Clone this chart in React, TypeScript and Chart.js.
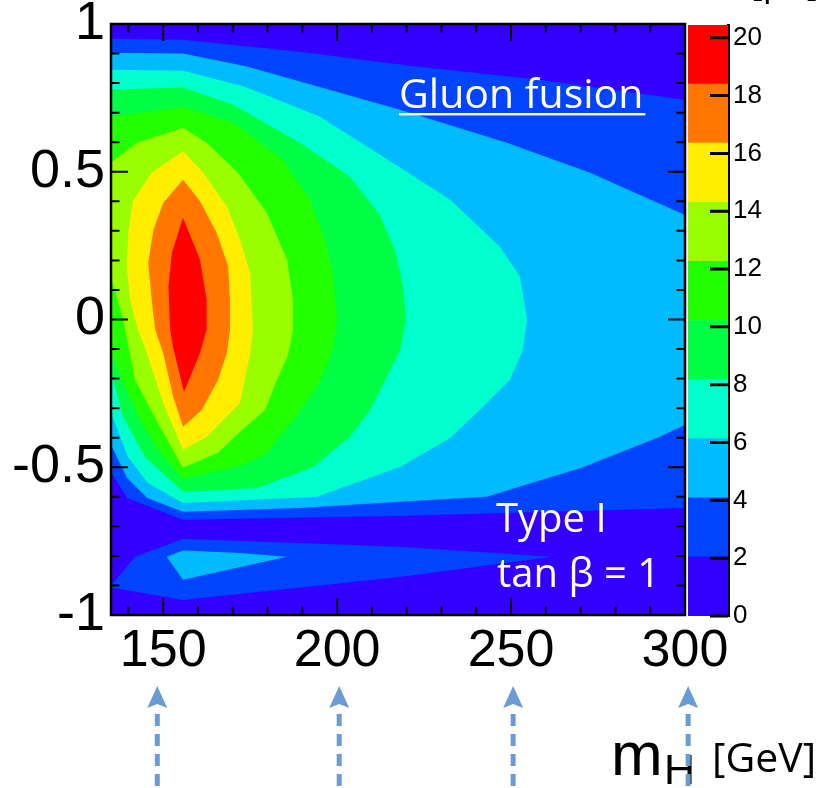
import React, { useEffect, useRef } from "react";
import { Chart, registerables } from "chart.js";

Chart.register(...registerables);

// ---------------- axes ----------------
const xMin = 135;
const xMax = 300;
const yMin = -1;
const yMax = 1;
const xTickValues = [150, 200, 250, 300];
const xTickLabels = ["150", "200", "250", "300"];
const xMinorTickValues = [140, 150, 160, 170, 180, 190, 200, 210, 220, 230, 240, 250, 260, 270, 280, 290, 300];
const yTickValues = [-1, -0.5, 0, 0.5, 1];
const yTickLabels = ["-1", "-0.5", "0", "0.5", "1"];
const yMinorTickValues = [-0.9, -0.8, -0.7, -0.6, -0.5, -0.4, -0.3, -0.2, -0.1, 0, 0.1, 0.2, 0.3, 0.4, 0.5, 0.6, 0.7, 0.8, 0.9];

// ---------------- colour scale ----------------
const zMax = 20.44;
const zBandWidths = [2.044, 2.044, 2.044, 2.044, 2.044, 2.044, 2.044, 2.044, 2.044, 2.044];
const zBandColors = ["#3300ff", "#0044ff", "#00bbff", "#00ffcc", "#00ff44", "#22ff00", "#99ff00", "#ffee00", "#ff7700", "#ff0000"];
const zTickValues = [0, 2, 4, 6, 8, 10, 12, 14, 16, 18, 20];
const zTickLabels = ["0", "2", "4", "6", "8", "10", "12", "14", "16", "18", "20"];

// ---------------- contour regions (m_H, cos) ----------------
const band0Area: number[][] = [[135, -1], [300, -1], [300, 1], [135, 1]];
const band1Upper: number[][] = [
  [135, 0.95], [155.7, 0.947], [189.3, 0.906], [221.0, 0.859], [258.3, 0.811], [300, 0.744],
  [300, -0.638], [218.1, -0.665], [155.7, -0.678], [139.6, -0.604], [135, -0.516],
];
const band1Lower: number[][] = [
  [135, -0.9], [141.9, -0.803], [155.7, -0.742], [218.1, -0.769], [262.1, -0.803],
  [218.1, -0.871], [155.7, -0.949], [135, -0.907],
];
const band2Upper: number[][] = [
  [135, 0.903], [155.7, 0.9], [174.1, 0.856], [218.1, 0.71], [248.8, 0.598], [272.7, 0.497], [300, 0.354],
  [300, -0.357], [291.9, -0.401], [270.3, -0.502], [243.0, -0.6], [218.1, -0.617], [189.3, -0.638],
  [155.7, -0.651], [145.4, -0.604], [139.6, -0.536], [135, -0.424],
];
const band2Lower: number[][] = [
  [151.0, -0.803], [155.7, -0.782], [172.1, -0.79], [185.5, -0.803], [155.7, -0.881],
];
const band3: number[][] = [
  [135, 0.845], [155.7, 0.842], [173.5, 0.788], [195.1, 0.686], [218.1, 0.514], [232.5, 0.405],
  [246.8, 0.246], [252.6, 0.145], [254.6, 0], [253.4, -0.103], [249.7, -0.204], [241.9, -0.296],
  [232.5, -0.401], [218.1, -0.499], [194.2, -0.6], [155.7, -0.621], [145.6, -0.553], [139.9, -0.465], [135, -0.316],
];
const band4: number[][] = [
  [135, 0.778], [155.7, 0.785], [170.1, 0.727], [189.3, 0.598], [203.7, 0.483], [212.3, 0.354],
  [216.6, 0.236], [218.9, 0.117], [219.8, 0], [218.1, -0.103], [209.5, -0.306], [203.7, -0.397],
  [193.1, -0.499], [177.0, -0.57], [155.7, -0.583], [144.8, -0.465], [138.5, -0.329], [135.6, -0.204], [135, -0.204],
];
const band5: number[][] = [
  [135, 0.686], [155.7, 0.72], [170.1, 0.666], [184.4, 0.541], [192.2, 0.405], [196.5, 0.27],
  [198.8, 0.152], [200.0, 0], [198.8, -0.103], [194.5, -0.221], [187.9, -0.333], [179.3, -0.458],
  [172.1, -0.495], [155.7, -0.539], [148.5, -0.441], [142.8, -0.329], [138.1, -0.204], [135, -0.113],
];
const band6: number[][] = [
  [135, 0.531], [142.5, 0.598], [155.7, 0.649], [162.5, 0.598], [171.5, 0.497], [179.8, 0.361],
  [185.6, 0.202], [187.3, 0.067], [187.3, -0.035], [185.9, -0.12], [182.1, -0.221], [179.3, -0.306],
  [172.1, -0.38], [165.8, -0.451], [155.7, -0.502], [148.5, -0.35], [141.9, -0.204], [138.5, 0], [135, 0.145],
];
const band7: number[][] = [
  [141.3, 0.4], [146.7, 0.497], [155.7, 0.569], [161.5, 0.497], [168.3, 0.382], [172.1, 0.27],
  [175.0, 0.158], [175.8, -0.035], [175.0, -0.113], [172.1, -0.282], [162.6, -0.397], [155.7, -0.441],
  [150.0, -0.282], [145.3, -0.113], [142.8, -0.035], [140.5, 0.067], [139.5, 0.179], [140.0, 0.294],
];
const band8: number[][] = [
  [150.0, 0.394], [155.7, 0.473], [160.6, 0.4], [165.4, 0.293], [168.7, 0.179], [169.2, 0.067],
  [169.2, -0.035], [168.3, -0.113], [165.8, -0.204], [161.1, -0.306], [155.7, -0.363], [152.9, -0.262],
  [150.0, -0.113], [147.7, -0.035], [146.7, 0.067], [145.7, 0.192], [147.2, 0.304],
];
const band9: number[][] = [
  [155.7, 0.344], [160.6, 0.202], [162.5, 0.067], [162.5, -0.035], [160.6, -0.113], [156.0, -0.245],
  [152.8, -0.092], [152.0, -0.035], [151.5, 0.111], [152.5, 0.226],
];

const contourLayers = [
  { band: 0, points: band0Area },
  { band: 1, points: band1Upper },
  { band: 1, points: band1Lower },
  { band: 2, points: band2Upper },
  { band: 2, points: band2Lower },
  { band: 3, points: band3 },
  { band: 4, points: band4 },
  { band: 5, points: band5 },
  { band: 6, points: band6 },
  { band: 7, points: band7 },
  { band: 8, points: band8 },
  { band: 9, points: band9 },
];

// annotation arrows below the axis (m_H values)
const arrowMassValues = [148.3, 200.6, 250.6, 300.9];

const AXIS_FONT = '"Liberation Sans", Arial, Helvetica, sans-serif';
const NOTE_FONT = '"Open Sans", "Noto Sans", sans-serif';

const framePlugin = {
  id: "frameTicks",
  afterDatasetsDraw(chart: any) {
    const { ctx, chartArea: a, scales } = chart;
    const x = scales.x;
    const y = scales.y;
    ctx.save();
    ctx.strokeStyle = "#000";
    ctx.lineWidth = 2;
    ctx.beginPath();
    for (const v of xMinorTickValues) {
      const px = x.getPixelForValue(v);
      const len = xTickValues.includes(v) ? 17 : 8.5;
      ctx.moveTo(px, a.bottom);
      ctx.lineTo(px, a.bottom - len);
      ctx.moveTo(px, a.top);
      ctx.lineTo(px, a.top + len);
    }
    for (const v of yMinorTickValues) {
      const py = y.getPixelForValue(v);
      const len = yTickValues.includes(v) ? 17 : 8.5;
      ctx.moveTo(a.left, py);
      ctx.lineTo(a.left + len, py);
      ctx.moveTo(a.right, py);
      ctx.lineTo(a.right - len, py);
    }
    ctx.stroke();
    ctx.lineWidth = 2.5;
    ctx.strokeRect(a.left, a.top, a.right - a.left, a.bottom - a.top);
    ctx.restore();
  },
};

const notesPlugin = {
  id: "notes",
  afterDraw(chart: any) {
    const { ctx, scales } = chart;
    const x = scales.x;
    ctx.save();
    // Gluon fusion (underlined)
    ctx.fillStyle = "#ffffff";
    ctx.textBaseline = "alphabetic";
    ctx.textAlign = "left";
    ctx.font = `41px ${NOTE_FONT}`;
    ctx.fillText("Gluon fusion", 399, 108);
    const w = ctx.measureText("Gluon fusion").width;
    ctx.fillRect(399, 113, Math.max(w, 240) + 2, 2.4);
    ctx.font = `40px ${NOTE_FONT}`;
    ctx.fillText("Type I", 496, 532);
    ctx.fillText("tan \u03b2 = 1", 497, 587);

    // cut-off unit at top right
    ctx.fillStyle = "#000";
    ctx.font = `36px ${NOTE_FONT}`;
    ctx.fillText("[pb]", 751, -5);

    // axis title m_H [GeV]
    ctx.font = `62px ${AXIS_FONT}`;
    ctx.fillText("m", 611, 775);
    ctx.font = `43px ${AXIS_FONT}`;
    ctx.fillText("H", 664, 784);
    ctx.font = `41px ${NOTE_FONT}`;
    ctx.fillText("[GeV]", 712, 772);

    // dashed arrows
    const arrowColor = "#6a9bd2";
    for (const v of arrowMassValues) {
      const px = x.getPixelForValue(v);
      ctx.fillStyle = arrowColor;
      ctx.beginPath();
      ctx.moveTo(px, 686);
      ctx.lineTo(px + 10, 708);
      ctx.lineTo(px, 704);
      ctx.lineTo(px - 10, 708);
      ctx.closePath();
      ctx.fill();
      ctx.strokeStyle = arrowColor;
      ctx.lineWidth = 5;
      ctx.setLineDash([12, 8]);
      ctx.beginPath();
      ctx.moveTo(px, 714);
      ctx.lineTo(px, 792);
      ctx.stroke();
      ctx.setLineDash([]);
    }
    ctx.restore();
  },
};

const colorbarTicksPlugin = {
  id: "cbTicks",
  afterDraw(chart: any) {
    const { ctx, chartArea: a, scales } = chart;
    const y = scales.y;
    ctx.save();
    ctx.strokeStyle = "#000";
    ctx.lineWidth = 3;
    ctx.beginPath();
    for (const v of zTickValues) {
      const py = y.getPixelForValue(v);
      ctx.moveTo(a.right, py);
      ctx.lineTo(a.right - 18, py);
    }
    ctx.stroke();
    ctx.restore();
  },
};

export default function App() {
  const mainRef = useRef<HTMLCanvasElement | null>(null);
  const barRef = useRef<HTMLCanvasElement | null>(null);

  useEffect(() => {
    if (!mainRef.current || !barRef.current) return;
    const n = contourLayers.length;
    const main = new Chart(mainRef.current, {
      type: "scatter",
      data: {
        datasets: contourLayers.map((layer, i) => ({
          data: layer.points.map((p) => ({ x: p[0], y: p[1] })),
          showLine: true,
          fill: "shape",
          backgroundColor: zBandColors[layer.band],
          borderColor: "rgba(0,0,0,0)",
          borderWidth: 0,
          pointRadius: 0,
          pointHoverRadius: 0,
          tension: 0,
          order: n - i,
        })),
      },
      options: {
        animation: false,
        responsive: false,
        events: [],
        layout: { padding: { left: 0, top: 24, right: 134, bottom: 0 } },
        plugins: { legend: { display: false }, tooltip: { enabled: false } },
        scales: {
          x: {
            type: "linear",
            min: xMin,
            max: xMax,
            position: "bottom",
            grid: { display: false, drawTicks: false },
            border: { display: false },
            afterBuildTicks: (s: any) => {
              s.ticks = xTickValues.map((v) => ({ value: v }));
            },
            afterFit: (s: any) => {
              s.height = 173;
              s.paddingLeft = 0;
              s.paddingRight = 0;
            },
            ticks: {
              autoSkip: false,
              maxRotation: 0,
              color: "#000",
              padding: 11,
              font: { family: AXIS_FONT, size: 52, lineHeight: 1 },
              callback: (v: any) => {
                const i = xTickValues.indexOf(Number(v));
                return i >= 0 ? xTickLabels[i] : "";
              },
            },
          },
          y: {
            type: "linear",
            min: yMin,
            max: yMax,
            position: "left",
            grid: { display: false, drawTicks: false },
            border: { display: false },
            afterBuildTicks: (s: any) => {
              s.ticks = yTickValues.map((v) => ({ value: v }));
            },
            afterFit: (s: any) => {
              s.width = 111;
              s.paddingTop = 0;
              s.paddingBottom = 0;
            },
            ticks: {
              autoSkip: false,
              color: "#000",
              padding: 6,
              font: { family: AXIS_FONT, size: 54, lineHeight: 1 },
              callback: (v: any) => {
                const i = yTickValues.indexOf(Number(v));
                return i >= 0 ? yTickLabels[i] : "";
              },
            },
          },
        },
      } as any,
      plugins: [framePlugin, notesPlugin],
    });

    const bar = new Chart(barRef.current, {
      type: "bar",
      data: {
        labels: [""],
        datasets: zBandWidths.map((w, i) => ({
          data: [w],
          backgroundColor: zBandColors[i],
          borderWidth: 0,
          barPercentage: 1,
          categoryPercentage: 1,
          stack: "z",
        })),
      },
      options: {
        animation: false,
        responsive: false,
        events: [],
        layout: { padding: { left: 0, top: 25, right: 0, bottom: 172 } },
        plugins: { legend: { display: false }, tooltip: { enabled: false } },
        scales: {
          x: { display: false, stacked: true },
          y: {
            stacked: true,
            position: "right",
            min: 0,
            max: zMax,
            grid: { display: false, drawTicks: false },
            border: { display: true, color: "#000", width: 3 },
            afterBuildTicks: (s: any) => {
              s.ticks = zTickValues.map((v) => ({ value: v }));
            },
            afterFit: (s: any) => {
              s.width = 91;
              s.paddingTop = 0;
              s.paddingBottom = 0;
            },
            ticks: {
              autoSkip: false,
              color: "#000",
              padding: 5,
              font: { family: AXIS_FONT, size: 26, lineHeight: 1 },
              callback: (v: any) => {
                const i = zTickValues.indexOf(Number(v));
                return i >= 0 ? zTickLabels[i] : "";
              },
            },
          },
        },
      } as any,
      plugins: [colorbarTicksPlugin],
    });

    return () => {
      main.destroy();
      bar.destroy();
    };
  }, []);

  return (
    <div style={{ position: "absolute", left: 0, top: 0, width: 819, height: 788, background: "#fff" }}>
      <canvas ref={mainRef} width={819} height={788} style={{ position: "absolute", left: 0, top: 0 }} />
      <canvas ref={barRef} width={131} height={788} style={{ position: "absolute", left: 688, top: 0 }} />
    </div>
  );
}
